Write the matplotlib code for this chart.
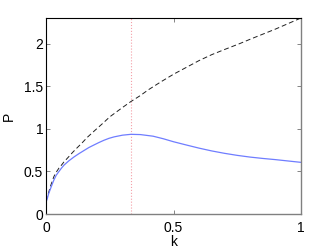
import matplotlib
matplotlib.use('Agg')
import matplotlib.pyplot as plt

matplotlib.rcParams['font.family'] = 'Liberation Sans'
matplotlib.rcParams['font.size'] = 10

# Values.
k_blue = [0.0, 0.005, 0.01, 0.018, 0.025, 0.031, 0.04, 0.051, 0.061, 0.071, 0.09,
          0.11, 0.13, 0.149, 0.168, 0.188, 0.207, 0.227, 0.247, 0.267, 0.3, 0.333,
          0.37, 0.42, 0.46, 0.5, 0.55, 0.6, 0.65, 0.7, 0.75, 0.8, 0.85, 0.9,
          0.95, 1.0]
p_blue = [0.14, 0.18, 0.235, 0.30, 0.355, 0.40, 0.455, 0.50, 0.54, 0.575, 0.625,
          0.67, 0.71, 0.745, 0.78, 0.81, 0.838, 0.865, 0.888, 0.905, 0.925, 0.935,
          0.932, 0.913, 0.883, 0.848, 0.81, 0.773, 0.74, 0.712, 0.688, 0.668,
          0.652, 0.638, 0.622, 0.606]

k_dash = [0.0, 0.005, 0.01, 0.018, 0.025, 0.031, 0.04, 0.051, 0.061, 0.07, 0.09,
          0.105, 0.123, 0.14, 0.162, 0.195, 0.225, 0.25, 0.3, 0.333, 0.37, 0.4,
          0.45, 0.5, 0.55, 0.6, 0.65, 0.7, 0.76, 0.8, 0.85, 0.9, 0.95, 1.0]
p_dash = [0.15, 0.2, 0.25, 0.33, 0.39, 0.44, 0.49, 0.54, 0.575, 0.61, 0.675,
          0.725, 0.78, 0.83, 0.9, 0.99, 1.07, 1.14, 1.25, 1.32, 1.39, 1.455,
          1.55, 1.64, 1.72, 1.80, 1.87, 1.93, 2.00, 2.05, 2.11, 2.17, 2.235, 2.30]

k_mark = 1.0 / 3.0

x_ticks = [0, 0.5, 1]
x_tick_labels = ['0', '0.5', '1']
y_ticks = [0, 0.5, 1, 1.5, 2]
y_tick_labels = ['0', '0.5', '1', '1.5', '2']

fig = plt.figure(figsize=(3.32, 2.5), dpi=100)
ax = fig.add_axes([0.1386, 0.144, 0.768, 0.784])

ax.axvline(k_mark, color='#f4a0a8', linestyle=':', linewidth=0.8)
ax.plot(k_dash, p_dash, color='#202020', linestyle=(0, (5, 3)), linewidth=0.7)
ax.plot(k_blue, p_blue, color='#6f7dff', linewidth=0.9)

ax.set_xlim(0, 1)
ax.set_ylim(0, 2.3)
ax.set_xticks(x_ticks)
ax.set_xticklabels(x_tick_labels)
ax.set_yticks(y_ticks)
ax.set_yticklabels(y_tick_labels)

ax.tick_params(direction='in', length=3, width=0.6, top=True, right=True,
               colors='#707070', labelcolor='black')
ax.tick_params(axis='x', pad=5)
ax.tick_params(axis='y', pad=2)

for side in ['top', 'left']:
    ax.spines[side].set_color('black')
    ax.spines[side].set_linewidth(0.8)
for side in ['bottom', 'right']:
    ax.spines[side].set_color('#808080')
    ax.spines[side].set_linewidth(1.0)

ax.set_xlabel('k', labelpad=0)
ax.set_ylabel('P', labelpad=6)

fig.savefig('out.png', dpi=100)
